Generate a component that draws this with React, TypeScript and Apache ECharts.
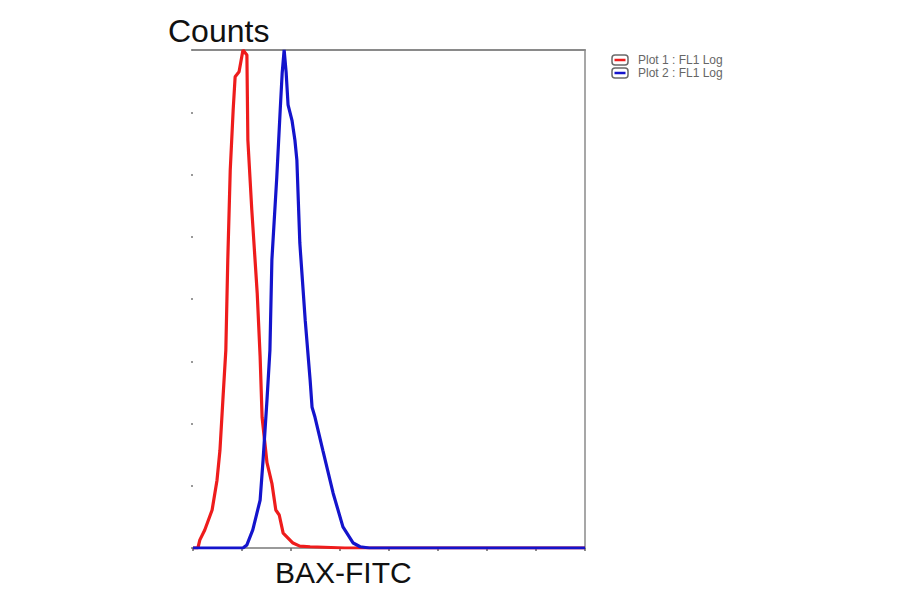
import { useEffect, useRef } from 'react';
import * as echarts from 'echarts';

// FL1 log scale position (8 divisions) and counts
const plot1X = [0, 0.1, 0.14, 0.24, 0.39, 0.49, 0.55, 0.61, 0.67, 0.71, 0.76, 0.82, 0.86, 0.94, 1.02, 1.1, 1.12, 1.2, 1.31, 1.37, 1.41, 1.51, 1.61, 1.69, 1.76, 1.84, 2.04, 2.18, 2.39, 3.1, 8];
const plot1Y = [0, 0, 1.3, 2.9, 6.1, 10.9, 15.7, 23.8, 31.8, 46.3, 60.7, 70.4, 75.7, 76.5, 80, 79.2, 65.5, 54.3, 41.0, 30.7, 21.0, 13.7, 10.4, 6.1, 5.3, 2.4, 0.8, 0.3, 0.2, 0, 0];
const plot2X = [0, 1.02, 1.1, 1.22, 1.37, 1.43, 1.51, 1.57, 1.61, 1.71, 1.78, 1.82, 1.86, 1.9, 1.94, 2.02, 2.08, 2.12, 2.18, 2.29, 2.39, 2.43, 2.49, 2.65, 2.86, 3.06, 3.27, 3.41, 3.6, 8];
const plot2Y = [0, 0, 0.5, 2.9, 7.7, 14.1, 23.8, 31.8, 46.3, 59.6, 70.4, 76.3, 80, 76.5, 71.2, 68.7, 65.5, 62.3, 49.0, 36.6, 27.0, 22.6, 21.0, 15.7, 8.8, 3.4, 0.8, 0.2, 0, 0];

const seriesNames = ['Plot 1 : FL1 Log', 'Plot 2 : FL1 Log'];
const seriesColors = ['#ee1c1c', '#1414cc'];

function App() {
  const chartRef = useRef<HTMLDivElement>(null);

  useEffect(() => {
    if (!chartRef.current) return;
    const chart = echarts.init(chartRef.current, null, { renderer: 'svg' });

    const legendItem = (i: number) => ({
      type: 'group',
      x: 612,
      y: 55 + i * 13,
      children: [
        {
          type: 'rect',
          shape: { x: 0, y: 0, width: 16, height: 10, r: 3 },
          style: { fill: '#fff', stroke: '#6a6a6a', lineWidth: 1.5 },
        },
        {
          type: 'line',
          shape: { x1: 2.5, y1: 5, x2: 13.5, y2: 5 },
          style: { stroke: seriesColors[i], lineWidth: 2.5 },
        },
        {
          type: 'text',
          x: 26,
          y: 5,
          style: {
            text: seriesNames[i],
            fill: '#666',
            font: '12px "Liberation Sans", Arial, sans-serif',
            verticalAlign: 'middle',
          },
        },
      ],
    });

    chart.setOption({
      animation: false,
      title: [
        {
          text: 'Counts',
          left: 163,
          top: 10,
          textStyle: { fontFamily: '"Liberation Sans", Arial, sans-serif', fontSize: 32, fontWeight: 'normal', color: '#111' },
        },
        {
          text: 'BAX-FITC',
          left: 270,
          top: 552,
          textStyle: { fontFamily: '"Liberation Sans", Arial, sans-serif', fontSize: 30, fontWeight: 'normal', color: '#111' },
        },
      ],
      grid: { left: 193, right: 315, top: 50, bottom: 46 },
      xAxis: [
        {
          type: 'value',
          min: 0,
          max: 8,
          interval: 1,
          axisLine: { show: true, onZero: false, lineStyle: { color: '#9a9a9a', width: 2 } },
          axisTick: { show: true, length: 3, lineStyle: { color: '#666', width: 1.5 } },
          axisLabel: { show: false },
          splitLine: { show: false },
        },
        {
          type: 'value',
          position: 'top',
          min: 0,
          max: 8,
          axisLine: { show: true, onZero: false, lineStyle: { color: '#8a8a8a', width: 2 } },
          axisTick: { show: false },
          axisLabel: { show: false },
          splitLine: { show: false },
        },
      ],
      yAxis: [
        {
          type: 'value',
          min: 0,
          max: 80,
          interval: 10,
          axisLine: { show: false, onZero: false },
          axisTick: { show: true, length: 2, lineStyle: { color: '#777', width: 1.5 } },
          axisLabel: { show: false },
          splitLine: { show: false },
        },
        {
          type: 'value',
          position: 'right',
          min: 0,
          max: 80,
          axisLine: { show: true, onZero: false, lineStyle: { color: '#8a8a8a', width: 1.5 } },
          axisTick: { show: false },
          axisLabel: { show: false },
          splitLine: { show: false },
        },
      ],
      series: [
        {
          name: seriesNames[0],
          type: 'line',
          symbol: 'none',
          data: plot1X.map((x, i) => [x, plot1Y[i]]),
          lineStyle: { color: seriesColors[0], width: 3.2 },
          itemStyle: { color: seriesColors[0] },
          z: 3,
        },
        {
          name: seriesNames[1],
          type: 'line',
          symbol: 'none',
          data: plot2X.map((x, i) => [x, plot2Y[i]]),
          lineStyle: { color: seriesColors[1], width: 3.2 },
          itemStyle: { color: seriesColors[1] },
          z: 4,
        },
      ],
      graphic: [legendItem(0), legendItem(1)],
    });

    return () => chart.dispose();
  }, []);

  return (
    <div
      ref={chartRef}
      style={{ position: 'fixed', left: 0, top: 0, width: '900px', height: '594px', background: '#fff' }}
    />
  );
}

export default App;
